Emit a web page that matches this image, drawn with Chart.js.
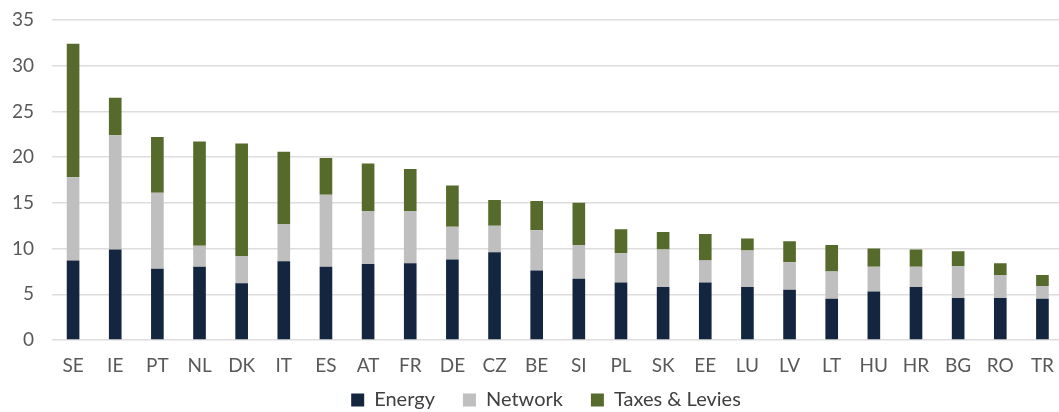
<!DOCTYPE html>
<html>
<head>
<meta charset="utf-8">
<script src="https://cdn.jsdelivr.net/npm/chart.js@4/dist/chart.umd.min.js"></script>
<style>
  html, body { margin: 0; padding: 0; background: #fff; overflow: hidden; }
  #wrap { width: 1068px; height: 412px; }
</style>
</head>
<body>
<div id="wrap"><canvas id="priceChart"></canvas></div>
<script>
// household electricity price components by country
const countries = ['SE','IE','PT','NL','DK','IT','ES','AT','FR','DE','CZ','BE','SI','PL','SK','EE','LU','LV','LT','HU','HR','BG','RO','TR'];
const energy  = [8.7, 9.9, 7.8, 8.0, 6.2, 8.6, 8.0, 8.3, 8.4, 8.8, 9.6, 7.6, 6.7, 6.3, 5.8, 6.3, 5.8, 5.5, 4.5, 5.3, 5.8, 4.6, 4.6, 4.5];
const network = [9.1, 12.5, 8.3, 2.3, 3.0, 4.1, 7.9, 5.8, 5.7, 3.6, 2.9, 4.4, 3.7, 3.2, 4.1, 2.4, 4.0, 3.0, 3.0, 2.7, 2.2, 3.5, 2.5, 1.4];
const taxes   = [14.6, 4.1, 6.1, 11.4, 12.3, 7.9, 4.0, 5.2, 4.6, 4.5, 2.8, 3.2, 4.6, 2.6, 1.9, 2.9, 1.3, 2.3, 2.9, 2.0, 1.9, 1.6, 1.3, 1.2];
const yTicks  = [0, 5, 10, 15, 20, 25, 30, 35];

const fontFamily = 'Lato, "Open Sans", sans-serif';

// the legend keeps wide gaps between items but sits closer to the axis,
// so pull its box up and a little to the right after layout
const legendShift = {
    id: 'legendShift',
    afterLayout(chart) {
        const lg = chart.legend;
        lg.left += 12;
        lg.right += 12;
        lg.top -= 16;
        lg.height += 16;
    }
};

new Chart(document.getElementById('priceChart'), {
    type: 'bar',
    data: {
        labels: countries,
        datasets: [
            { label: 'Energy', data: energy, backgroundColor: '#13253f' },
            { label: 'Network', data: network, backgroundColor: '#bfbfbf' },
            { label: 'Taxes & Levies', data: taxes, backgroundColor: '#556a2b' }
        ]
    },
    plugins: [legendShift],
    options: {
        responsive: true,
        maintainAspectRatio: false,
        animation: false,
        layout: { padding: 0 },
        datasets: {
            bar: { categoryPercentage: 1, barPercentage: 0.3 }
        },
        plugins: {
            tooltip: { enabled: false },
            legend: {
                position: 'bottom',
                maxHeight: 34,
                labels: {
                    boxWidth: 13,
                    boxHeight: 13,
                    padding: 28,
                    color: '#404040',
                    font: { family: fontFamily, size: 20 }
                }
            }
        },
        scales: {
            x: {
                stacked: true,
                grid: { display: false, drawTicks: false },
                border: { display: false },
                ticks: {
                    color: '#595959',
                    padding: 14,
                    maxRotation: 0,
                    autoSkip: false,
                    font: { family: fontFamily, size: 19 }
                },
                afterFit: (scale) => { scale.height = 38; }
            },
            y: {
                stacked: true,
                min: 0,
                max: 35,
                afterBuildTicks: (scale) => { scale.ticks = yTicks.map(v => ({ value: v })); },
                grid: { color: '#dddddd', lineWidth: 1.5, drawTicks: false },
                border: { display: false },
                ticks: {
                    color: '#595959',
                    padding: 18,
                    font: { family: fontFamily, size: 19 }
                },
                afterFit: (scale) => {
                    scale.width = 52;
                    scale.paddingTop = 20;
                    scale.paddingBottom = 10;
                }
            }
        }
    }
});
</script>
</body>
</html>
